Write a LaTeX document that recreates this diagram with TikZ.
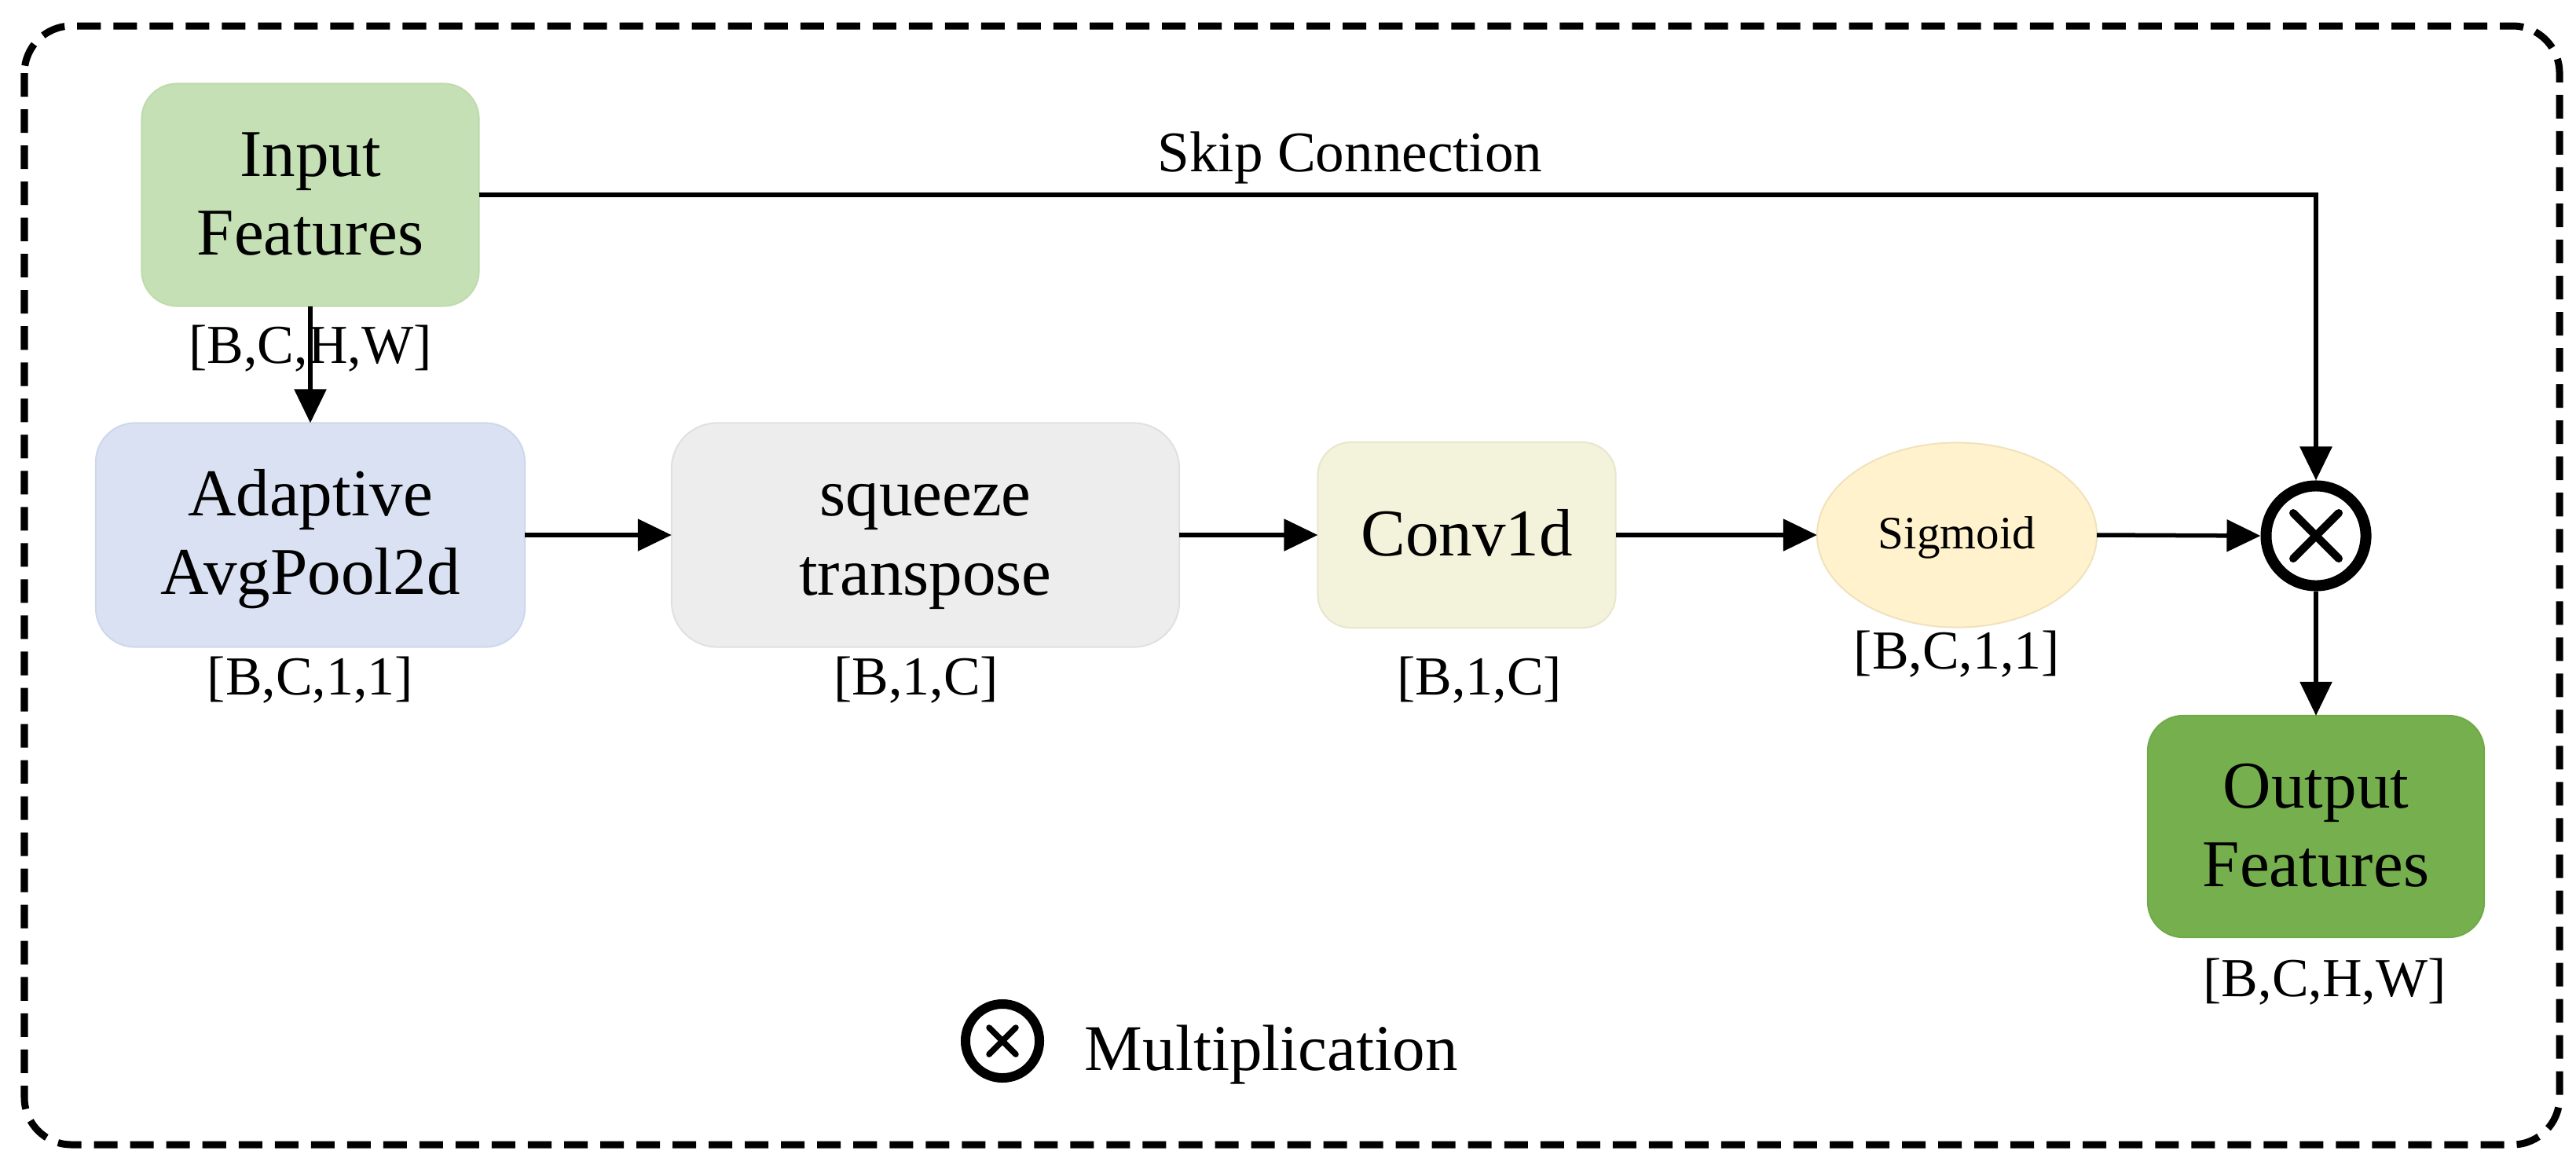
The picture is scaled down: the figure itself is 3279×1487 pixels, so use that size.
\documentclass[tikz,border=0pt]{standalone}
\usepackage{fontspec}
\setmainfont{Liberation Serif}
\usetikzlibrary{arrows.meta,shapes.geometric}
\definecolor{cin}{HTML}{C5E0B4}
\definecolor{cinb}{HTML}{BFDAAC}
\definecolor{cada}{HTML}{D9E1F2}
\definecolor{cadab}{HTML}{CED8EC}
\definecolor{csq}{HTML}{EDEDED}
\definecolor{csqb}{HTML}{E0E0E0}
\definecolor{cconv}{HTML}{F3F2DA}
\definecolor{cconvb}{HTML}{E8E6CC}
\definecolor{csig}{HTML}{FFF2CC}
\definecolor{csigb}{HTML}{F0E2BC}
\definecolor{cout}{HTML}{76B04E}
\definecolor{coutb}{HTML}{70AA48}
\newcommand{\figBig}{\fontsize{24.2pt}{28.45pt}\selectfont}
\newcommand{\figLab}{\fontsize{19.9pt}{24pt}\selectfont}
\newcommand{\figSkip}{\fontsize{20.8pt}{25pt}\selectfont}
\newcommand{\figSig}{\fontsize{16.8pt}{20pt}\selectfont}
\newcommand{\figLeg}{\fontsize{23.6pt}{28pt}\selectfont}
\newcommand{\figTop}{\rule{0pt}{0.70cm}}
\newcommand{\figBot}{\rule[-0.18cm]{0pt}{0.18cm}}
\begin{document}
\begin{tikzpicture}[x=0.01cm,y=-0.01cm,
  blk/.style={rectangle, draw=#1, line width=0.02cm, inner sep=0pt, outer sep=0pt, align=center, font=\figBig},
  lab/.style={anchor=base, inner sep=0pt, font=\figLab},
  arr/.style={line width=0.055cm, -{Triangle[length=0.43cm,width=0.40cm]}},
  mulc/.style={circle, draw=black, inner sep=0pt}
]
\fill[white] (0,0) rectangle (3279,1487);
\useasboundingbox (0,0) rectangle (3279,1487);
\draw[line width=0.09cm, dash pattern=on 0.30cm off 0.16cm, rounded corners=0.6cm] (31,33) rectangle (3258,1457);

% blocks
\node[blk=cinb, fill=cin, rounded corners=0.45cm, minimum width=4.29cm, minimum height=2.83cm] (in) at (395,248) {\figTop Input\\Features\figBot};
\node[blk=cadab, fill=cada, rounded corners=0.5cm, minimum width=5.46cm, minimum height=2.85cm] (ada) at (395,681) {\figTop Adaptive\\AvgPool2d\figBot};
\node[blk=csqb, fill=csq, rounded corners=0.58cm, minimum width=6.46cm, minimum height=2.85cm] (sq) at (1178,681) {\figTop squeeze\\transpose\figBot};
\node[blk=cconvb, fill=cconv, rounded corners=0.42cm, minimum width=3.79cm, minimum height=2.36cm, text height=0.70cm, text depth=0.18cm] (conv) at (1867,681) {Conv1d};
\node[ellipse, draw=csigb, fill=csig, line width=0.02cm, inner sep=0pt, outer sep=0pt, minimum width=3.56cm, minimum height=2.35cm, font=\figSig, text height=0.50cm, text depth=0.15cm] (sig) at (2491,681) {Sigmoid};
\node[mulc, line width=0.14cm, minimum size=1.27cm] (mul) at (2948,682) {};
\draw[line width=0.10cm, line cap=round] ([shift={(-29,-29)}]mul.center) -- ([shift={(29,29)}]mul.center);
\draw[line width=0.10cm, line cap=round] ([shift={(-29,29)}]mul.center) -- ([shift={(29,-29)}]mul.center);
\node[blk=coutb, fill=cout, rounded corners=0.45cm, minimum width=4.28cm, minimum height=2.82cm] (out) at (2948,1052) {\figTop Output\\Features\figBot};

% shape labels
\node[lab] (inL) at (395,462) {[B,C,H,W]};
\node[lab] (adaL) at (395,884) {[B,C,1,1]};
\node[lab] (sqL) at (1166,884) {[B,1,C]};
\node[lab] (convL) at (1883,884) {[B,1,C]};
\node[lab] (sigL) at (2491,851) {[B,C,1,1]};
\node[lab] (outL) at (2959,1268) {[B,C,H,W]};

% connectors
\draw[arr] (in.south) -- (ada.north);
\draw[arr] (ada.east) -- (sq.west);
\draw[arr] (sq.east) -- (conv.west);
\draw[arr] (conv.east) -- (sig.west);
\draw[arr] (sig.east) -- (mul.west);
\draw[arr, line width=0.06cm] (in.east) -| (mul.north);
\draw[arr] (mul.south) -- (out.north);
\node[anchor=base west, inner sep=0pt, font=\figSkip] (skipL) at (1473,218) {Skip Connection};

% legend
\node[mulc, line width=0.12cm, minimum size=0.94cm] (legc) at (1276,1325) {};
\draw[line width=0.075cm, line cap=round] ([shift={(-17,-17)}]legc.center) -- ([shift={(17,17)}]legc.center);
\draw[line width=0.075cm, line cap=round] ([shift={(-17,17)}]legc.center) -- ([shift={(17,-17)}]legc.center);
\node[anchor=base west, inner sep=0pt, font=\figLeg] (legt) at (1380,1362) {Multiplication};
\end{tikzpicture}
\end{document}
